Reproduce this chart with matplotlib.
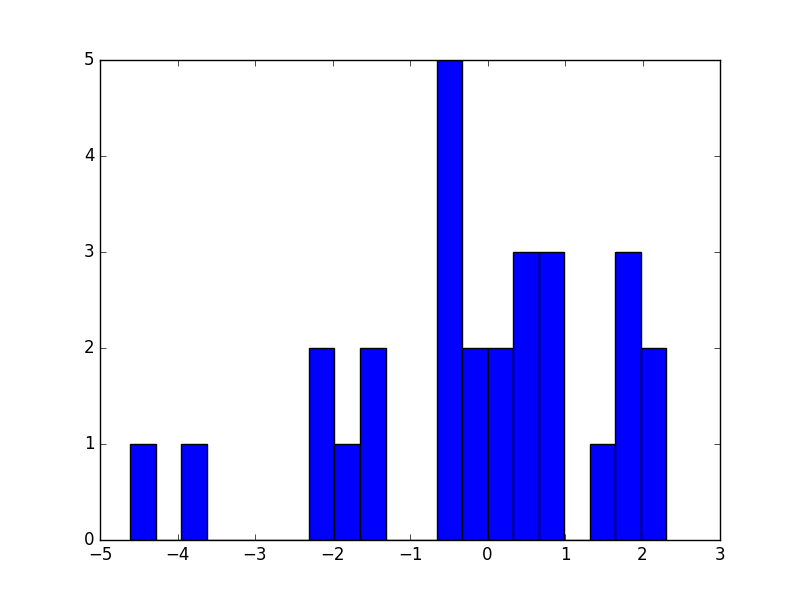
import matplotlib
matplotlib.use('Agg')
import matplotlib.pyplot as plt
import numpy as np

plt.style.use('classic')

# histogram: 21 equal bins
left_edge = -4.609
right_edge = 2.307
counts = [1, 0, 1, 0, 0, 0, 0, 2, 1, 2, 0, 0, 5, 2, 2, 3, 3, 0, 1, 3, 2]

edges = np.linspace(left_edge, right_edge, len(counts) + 1)
width = edges[1] - edges[0]

fig = plt.figure(figsize=(8, 6), dpi=100)
ax = fig.add_subplot(111)
ax.bar(edges[:-1], counts, width=width, align='edge',
       facecolor='blue', edgecolor='black')
ax.set_xlim(-5, 3)
ax.set_ylim(0, 5)

fig.savefig('out.png', dpi=100)
